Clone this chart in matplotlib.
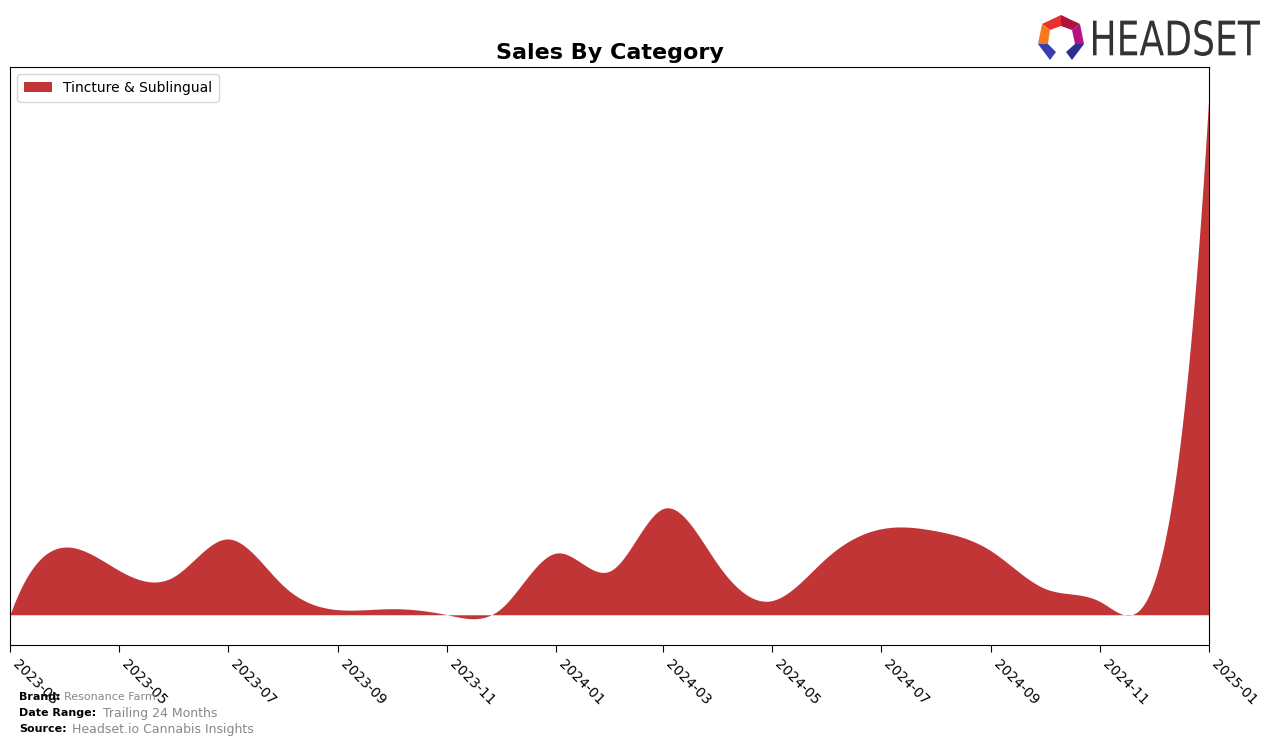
import numpy as np
import pandas as pd
import matplotlib
matplotlib.use("Agg")
import matplotlib.pyplot as plt
import matplotlib.dates as mdates
from matplotlib.patches import Polygon, PathPatch
from matplotlib.textpath import TextPath
from matplotlib.font_manager import FontProperties
from matplotlib.transforms import Affine2D, IdentityTransform

# ---- data ----
months = ["2023-03", "2023-04", "2023-05", "2023-06", "2023-07", "2023-08",
          "2023-09", "2023-10", "2023-11", "2023-12", "2024-01", "2024-02",
          "2024-03", "2024-04", "2024-05", "2024-06", "2024-07", "2024-08",
          "2024-09", "2024-10", "2024-11", "2024-12", "2025-01"]
tincture_sales = [0, 67, 44, 38, 75, 29, 5, 6, 0, 6, 61, 44,
                  105, 49, 14, 57, 85, 83, 63, 26, 13, 31, 516]
category = "Tincture & Sublingual"
tick_months = months[::2]
brand = "Resonance Farm"
date_range = "Trailing 24 Months"
source = "Headset.io Cannabis Insights"
fill_color = "#c13536"


def not_a_knot_spline(x, y, xs):
    x = np.asarray(x, float)
    y = np.asarray(y, float)
    n = len(x)
    h = np.diff(x)
    A = np.zeros((n, n))
    b = np.zeros(n)
    A[0, 0], A[0, 1], A[0, 2] = h[1], -(h[0] + h[1]), h[0]
    A[-1, -3], A[-1, -2], A[-1, -1] = h[-1], -(h[-2] + h[-1]), h[-2]
    for i in range(1, n - 1):
        A[i, i - 1] = h[i - 1]
        A[i, i] = 2 * (h[i - 1] + h[i])
        A[i, i + 1] = h[i]
        b[i] = 6 * ((y[i + 1] - y[i]) / h[i] - (y[i] - y[i - 1]) / h[i - 1])
    M = np.linalg.solve(A, b)
    idx = np.clip(np.searchsorted(x, xs) - 1, 0, n - 2)
    x0, x1 = x[idx], x[idx + 1]
    hh = x1 - x0
    return (M[idx] * (x1 - xs) ** 3 / (6 * hh) + M[idx + 1] * (xs - x0) ** 3 / (6 * hh)
            + (y[idx] / hh - M[idx] * hh / 6) * (x1 - xs)
            + (y[idx + 1] / hh - M[idx + 1] * hh / 6) * (xs - x0))


dates = pd.to_datetime(months)
xnum = mdates.date2num(dates)
xs = np.linspace(xnum[0], xnum[-1], 1500)
ys = not_a_knot_spline(xnum, tincture_sales, xs)

fig = plt.figure(figsize=(12.76, 7.46), dpi=100)
ax = fig.add_axes([10 / 1276, 1 - 645 / 746, 1199 / 1276, 578 / 746])
ax.fill_between(mdates.num2date(xs), 0, ys, color=fill_color, linewidth=0,
                label=category)
ax.set_xlim(dates[0], dates[-1])
ax.set_yticks([])
ax.set_xticks(pd.to_datetime(tick_months))
ax.xaxis.set_major_formatter(mdates.DateFormatter("%Y-%m"))
for lab in ax.get_xticklabels():
    lab.set_rotation(-45)
    lab.set_ha("left")
    lab.set_fontsize(10)
ax.tick_params(axis="x", length=5)
ax.set_title("Sales By Category", fontsize=16, fontweight="bold", pad=6)
ax.legend(loc="upper left", fontsize=10, handlelength=2, borderpad=0.5)

# footer
fig.text(19 / 1276, 1 - 697 / 746, "Brand:", fontsize=8, fontweight="bold", va="center")
fig.text(64 / 1276, 1 - 697 / 746, brand, fontsize=8, color="#888888", va="center")
fig.text(19 / 1276, 1 - 713 / 746, "Date Range:", fontsize=8, fontweight="bold", va="center")
fig.text(103 / 1276, 1 - 713 / 746, date_range, fontsize=9, color="#888888", va="center")
fig.text(19 / 1276, 1 - 729 / 746, "Source:", fontsize=8, fontweight="bold", va="center")
fig.text(72 / 1276, 1 - 729 / 746, source, fontsize=9, color="#888888", va="center")

# logo
H = 746


def D(px, py):
    return (px, H - py)


logo_parts = [
    ([(1042, 24), (1061, 15), (1061, 26), (1050, 30)], "#e8312f"),
    ([(1061, 15), (1080, 24), (1072, 30), (1061, 26)], "#b0123e"),
    ([(1080, 24), (1084, 44), (1075, 44), (1072, 30)], "#b5128a"),
    ([(1042, 24), (1050, 30), (1048, 44), (1038, 44)], "#f47a20"),
    ([(1038, 44), (1048, 44), (1056, 52), (1050, 60)], "#3b3fae"),
    ([(1084, 44), (1075, 44), (1066, 52), (1072, 60)], "#2d2f8f"),
]
for pts, col in logo_parts:
    fig.patches.append(Polygon([D(*p) for p in pts], closed=True, facecolor=col,
                               edgecolor="none", transform=IdentityTransform()))

tp = TextPath((0, 0), "HEADSET", size=1, prop=FontProperties(family="DejaVu Sans"))
ext = tp.get_extents()
x0, x1, y0, y1 = 1093, 1260, 20, 56
sx = (x1 - x0) / ext.width
sy = (y1 - y0) / ext.height
tr = Affine2D().translate(-ext.x0, -ext.y0).scale(sx, sy).translate(x0, H - y1)
path = tr.transform_path(tp)
fig.patches.append(PathPatch(path, facecolor="#333333", edgecolor="none",
                             transform=IdentityTransform()))

fig.savefig("out.png", dpi=100)
